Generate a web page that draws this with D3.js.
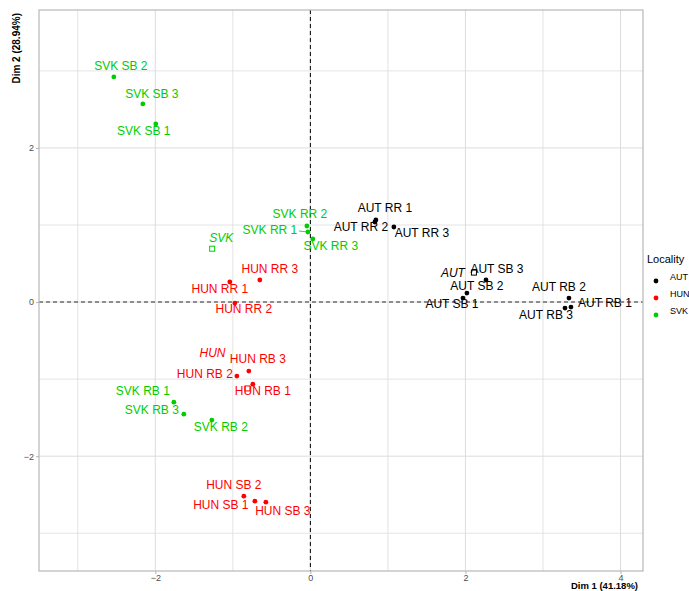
<!DOCTYPE html>
<html>
<head>
<meta charset="utf-8">
<script src="https://cdn.jsdelivr.net/npm/d3@7/dist/d3.min.js"></script>
<style>
  body { margin: 0; background: #fff; }
  svg text { font-family: "Liberation Sans", Arial, sans-serif; }
</style>
</head>
<body>
<svg id="chart" width="689" height="591"></svg>
<script>
// ---- data: individual coordinates on the first two dimensions ----
const localities = ["AUT", "HUN", "SVK"];
const samples = ["RR 1", "RR 2", "RR 3", "SB 1", "SB 2", "SB 3", "RB 1", "RB 2", "RB 3"];

const autDim1 = [0.845, 0.832, 1.077, 1.968, 2.019, 2.265, 3.361, 3.335, 3.284];
const autDim2 = [1.065, 1.039, 0.974, 0.052, 0.117, 0.286, -0.065, 0.052, -0.078];

const hunDim1 = [-1.039, -0.974, -0.652, -0.716, -0.858, -0.574, -0.742, -0.948, -0.794];
const hunDim2 = [0.260, -0.013, 0.286, -2.584, -2.519, -2.597, -1.065, -0.961, -0.896];

const svkDim1 = [-0.032, -0.045, 0.032, -1.994, -2.535, -2.161, -1.761, -1.271, -1.632];
const svkDim2 = [0.909, 0.987, 0.818, 2.312, 2.922, 2.571, -1.299, -1.532, -1.455];

const xTicks = [-2, 0, 2, 4];
const yTicks = [-2, 0, 2];
const xTitle = "Dim 1 (41.18%)";
const yTitle = "Dim 2 (28.94%)";
const legendTitle = "Locality";

// ---- look ----
const colors = { AUT: "#000000", HUN: "#FF0000", SVK: "#00CD00" };

// label placement (pixel nudges from each point, repel-style)
const labelNudge = {
  "AUT RR 1": [9, -12], "AUT RR 2": [-14, 5], "AUT RR 3": [28, 6],
  "AUT SB 1": [-11, 6], "AUT SB 2": [10, -7], "AUT SB 3": [11, -11],
  "AUT RB 1": [34, -4], "AUT RB 2": [-10, -11], "AUT RB 3": [-19, 7],
  "HUN RR 1": [-10, 7], "HUN RR 2": [9, 6], "HUN RR 3": [10, -11],
  "HUN SB 1": [-34, 3], "HUN SB 2": [-10, -11], "HUN SB 3": [17, 8],
  "HUN RB 1": [10, 7], "HUN RB 2": [-32, -2], "HUN RB 3": [9, -12],
  "SVK RR 1": [-38, -2], "SVK RR 2": [-7, -12], "SVK RR 3": [18, 7],
  "SVK SB 1": [-12, 7], "SVK SB 2": [7, -11], "SVK SB 3": [9, -10],
  "SVK RB 1": [-31, -11], "SVK RB 2": [9, 7], "SVK RB 3": [-32, -5],
  "AUT": [-21, 0], "HUN": [-35, -36], "SVK": [9, -11]
};
const segmentLabels = ["SVK RR 1"];

const dims = { AUT: [autDim1, autDim2], HUN: [hunDim1, hunDim2], SVK: [svkDim1, svkDim2] };
const points = [];
localities.forEach(g => {
  samples.forEach((s, i) => {
    points.push({ group: g, name: g + " " + s, x: dims[g][0][i], y: dims[g][1][i] });
  });
});
// group centres = mean of each locality's individuals
const centres = localities.map(g => ({
  group: g, name: g,
  x: d3.mean(dims[g][0]), y: d3.mean(dims[g][1])
}));

const svg = d3.select("#chart");
const panel = { left: 39, right: 643, top: 10, bottom: 571 };

const x = d3.scaleLinear().domain([-3.5, 4.29]).range([panel.left, panel.right]);
const y = d3.scaleLinear().domain([-3.49, 3.79]).range([panel.bottom, panel.top]);

// grid
const grid = svg.append("g");
d3.range(-3, 5).forEach(v => {
  grid.append("line")
    .attr("x1", x(v)).attr("x2", x(v))
    .attr("y1", panel.top).attr("y2", panel.bottom)
    .attr("stroke", "#dcdcdc").attr("stroke-width", v % 2 === 0 ? 1 : 0.8);
});
d3.range(-3, 4).forEach(v => {
  grid.append("line")
    .attr("y1", y(v)).attr("y2", y(v))
    .attr("x1", panel.left).attr("x2", panel.right)
    .attr("stroke", "#dcdcdc").attr("stroke-width", v % 2 === 0 ? 1 : 0.8);
});

// reference lines through the origin
svg.append("line")
  .attr("x1", panel.left).attr("x2", panel.right)
  .attr("y1", y(0)).attr("y2", y(0))
  .attr("stroke", "#6e6e6e").attr("stroke-width", 1.6)
  .attr("stroke-dasharray", "4,3");
svg.append("line")
  .attr("x1", x(0)).attr("x2", x(0))
  .attr("y1", panel.top).attr("y2", panel.bottom)
  .attr("stroke", "#000").attr("stroke-width", 1)
  .attr("stroke-dasharray", "4,3");

// axes
const xAxis = svg.append("g")
  .attr("transform", `translate(0,${panel.bottom})`)
  .call(d3.axisBottom(x).tickValues(xTicks).tickSize(3).tickPadding(1).tickFormat(d3.format("d")));
const yAxis = svg.append("g")
  .attr("transform", `translate(${panel.left},0)`)
  .call(d3.axisLeft(y).tickValues(yTicks).tickSize(3).tickPadding(2).tickFormat(d3.format("d")));
[xAxis, yAxis].forEach(a => {
  a.select(".domain").remove();
  a.selectAll(".tick line").attr("stroke", "#b3b3b3");
  a.selectAll(".tick text").attr("fill", "#4d4d4d").style("font-size", "9px")
    .style("font-family", "'Liberation Sans', Arial, sans-serif");
});

// panel border
svg.append("rect")
  .attr("x", panel.left).attr("y", panel.top)
  .attr("width", panel.right - panel.left).attr("height", panel.bottom - panel.top)
  .attr("fill", "none").attr("stroke", "#b8b8b8").attr("stroke-width", 1.2);

// axis titles
svg.append("text")
  .attr("x", 638).attr("y", 589)
  .attr("text-anchor", "end")
  .style("font-size", "9.5px").style("font-weight", "bold")
  .text(xTitle);
svg.append("text")
  .attr("transform", "translate(20,13) rotate(-90)")
  .attr("text-anchor", "end")
  .style("font-size", "10px").style("font-weight", "bold")
  .text(yTitle);

// repel segments
svg.append("g").selectAll("line")
  .data(points.filter(d => segmentLabels.includes(d.name)))
  .join("line")
  .attr("x1", d => x(d.x) + labelNudge[d.name][0] + 29)
  .attr("y1", d => y(d.y) + labelNudge[d.name][1] + 1)
  .attr("x2", d => x(d.x)).attr("y2", d => y(d.y))
  .attr("stroke", d => colors[d.group]).attr("stroke-width", 0.8);

// individuals
svg.append("g").selectAll("circle")
  .data(points)
  .join("circle")
  .attr("cx", d => x(d.x)).attr("cy", d => y(d.y))
  .attr("r", 2.4)
  .attr("fill", d => colors[d.group]);

// group centres (hollow squares)
svg.append("g").selectAll("rect")
  .data(centres)
  .join("rect")
  .attr("x", d => x(d.x) - 2.5).attr("y", d => y(d.y) - 2.5)
  .attr("width", 5).attr("height", 5)
  .attr("fill", "none")
  .attr("stroke", d => colors[d.group]).attr("stroke-width", 1);

// labels
svg.append("g").selectAll("text")
  .data(points)
  .join("text")
  .attr("x", d => x(d.x) + labelNudge[d.name][0])
  .attr("y", d => y(d.y) + labelNudge[d.name][1])
  .attr("dy", "0.36em")
  .attr("text-anchor", "middle")
  .attr("fill", d => colors[d.group])
  .style("font-size", "12px")
  .text(d => d.name);

svg.append("g").selectAll("text")
  .data(centres)
  .join("text")
  .attr("x", d => x(d.x) + labelNudge[d.name][0])
  .attr("y", d => y(d.y) + labelNudge[d.name][1])
  .attr("dy", "0.36em")
  .attr("text-anchor", "middle")
  .attr("fill", d => colors[d.group])
  .style("font-size", "12px").style("font-style", "italic")
  .text(d => d.name);

// legend
const legend = svg.append("g");
legend.append("text")
  .attr("x", 647).attr("y", 263)
  .style("font-size", "11px")
  .text(legendTitle);
localities.forEach((g, i) => {
  const cy = 281 + i * 17;
  legend.append("circle")
    .attr("cx", 656).attr("cy", cy).attr("r", 2.4)
    .attr("fill", colors[g]);
  legend.append("text")
    .attr("x", 670).attr("y", cy - 4).attr("dy", "0.36em")
    .style("font-size", "9px")
    .text(g);
});
</script>
</body>
</html>
